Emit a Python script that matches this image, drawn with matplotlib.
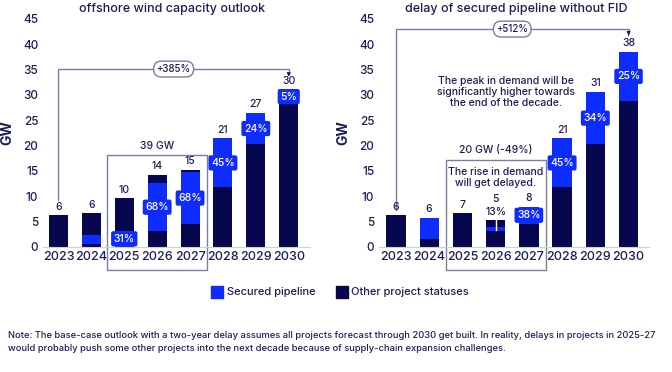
import matplotlib.pyplot as plt
from matplotlib.patches import Rectangle

plt.rcParams['font.family'] = ['Inter', 'DejaVu Sans']
plt.rcParams['font.weight'] = 500

years = ['2023', '2024', '2025', '2026', '2027', '2028', '2029', '2030']

# left: base-case outlook (dark bottom, secured, dark top), GW
base_l = [6.2, 0.5, 0.0, 3.0, 4.4, 11.7, 20.2, 28.2]
secured_l = [0.0, 1.8, 3.1, 9.6, 10.4, 9.7, 6.3, 2.9]
top_l = [0.0, 4.3, 6.5, 1.6, 0.4, 0.0, 0.0, 0.0]
totals_l = ['6', '6', '10', '14', '15', '21', '27', '30']
pct_l = ['', '', '31%', '68%', '68%', '45%', '24%', '5%']

# right: delay of secured pipeline without FID
base_r = [6.2, 1.5, 6.6, 3.1, 4.5, 11.7, 20.2, 28.8]
secured_r = [0.0, 4.2, 0.0, 0.7, 3.4, 9.7, 10.4, 9.7]
top_r = [0.0, 0.0, 0.0, 1.5, 0.0, 0.0, 0.0, 0.0]
totals_r = ['6', '6', '7', '5', '8', '21', '31', '38']
pct_r = ['', '', '', '13%', '38%', '45%', '34%', '25%']

BLUE = '#0f2cff'
NAVY = '#07074f'
TXT = '#1c1c5c'
LAV = '#7c7ca6'

fig = plt.figure(figsize=(6.72, 3.72), dpi=100)
ax1 = fig.add_axes([0.064, 0.337, 0.397, 0.612])
ax2 = fig.add_axes([0.564, 0.337, 0.402, 0.612])


def draw(ax, base, sec, top, totals, pcts, xlim, outside=()):
    x = list(range(len(years)))
    b2 = [b + s for b, s in zip(base, sec)]
    ax.bar(x, base, width=0.58, color=NAVY)
    ax.bar(x, sec, width=0.58, bottom=base, color=BLUE)
    ax.bar(x, top, width=0.58, bottom=b2, color=NAVY)
    for i in x:
        tot = base[i] + sec[i] + top[i]
        if i in outside:
            # small share: label sits above the bar, value above that
            ax.text(i, tot + 0.5, pcts[i], ha='center', va='bottom',
                    fontsize=7.5, color=TXT)
            ax.text(i, tot + 3.1, totals[i], ha='center', va='bottom',
                    fontsize=7.5, color=TXT)
            continue
        ax.text(i, tot + 0.7, totals[i], ha='center', va='bottom',
                fontsize=7.5, color=TXT)
        if pcts[i]:
            ax.text(i, base[i] + sec[i] / 2, pcts[i], ha='center', va='center',
                    fontsize=7.5, color='white',
                    bbox=dict(boxstyle='round,pad=0.25,rounding_size=0.2',
                              fc=BLUE, ec='none'))
    ax.set_xlim(*xlim)
    ax.set_ylim(0, 45)
    ax.set_yticks(range(0, 46, 5))
    ax.set_xticks(x)
    ax.set_xticklabels(years)
    ax.tick_params(length=0, colors=TXT, labelsize=8.5)
    ax.tick_params(axis='x', labelsize=9, pad=3)
    for s in ['left', 'right', 'top']:
        ax.spines[s].set_visible(False)
    ax.spines['bottom'].set_color('#d0d0dc')
    ax.set_ylabel('GW', fontsize=10, fontweight='bold', color=TXT, labelpad=6)


draw(ax1, base_l, secured_l, top_l, totals_l, pct_l, (-0.47, 7.64))
draw(ax2, base_r, secured_r, top_r, totals_r, pct_r, (-0.51, 7.62), outside=(3,))

# left annotations
ax1.plot([0, 0, 7, 7], [9.2, 35.1, 35.1, 34.2], color=LAV, lw=1, clip_on=False)
ax1.annotate('', xy=(7, 33.6), xytext=(7, 34.6),
             arrowprops=dict(arrowstyle='-|>', color=TXT, lw=0.8, mutation_scale=5))
ax1.text(3.5, 35.1, '+385%', ha='center', va='center', fontsize=7, color=TXT,
         bbox=dict(boxstyle='round,pad=0.3,rounding_size=0.8', fc='white', ec=LAV, lw=1))
ax1.add_patch(Rectangle((1.47, -4.6), 3.06, 22.7, fill=False, ec=LAV, lw=1, clip_on=False))
ax1.text(3.0, 19.9, '39 GW', ha='center', va='center', fontsize=7.5, color=TXT)

# right annotations
ax2.plot([0, 0, 7, 7], [7.2, 43.0, 43.0, 42.2], color=LAV, lw=1, clip_on=False)
ax2.annotate('', xy=(7, 41.2), xytext=(7, 42.4),
             arrowprops=dict(arrowstyle='-|>', color=TXT, lw=0.8, mutation_scale=5),
             annotation_clip=False)
ax2.text(3.5, 43.0, '+512%', ha='center', va='center', fontsize=7, color=TXT,
         bbox=dict(boxstyle='round,pad=0.3,rounding_size=0.8', fc='white', ec=LAV, lw=1))
ax2.add_patch(Rectangle((1.51, -4.6), 3.01, 21.7, fill=False, ec=LAV, lw=1, clip_on=False))
ax2.text(3.0, 19.1, '20 GW (-49%)', ha='center', va='center', fontsize=7.5, color=TXT)
ax2.text(3.0, 13.7, 'The rise in demand\nwill get delayed.', ha='center', va='center',
         fontsize=7.5, color=TXT, linespacing=1.1)
ax2.text(3.3, 30.6, 'The peak in demand will be\nsignificantly higher towards\nthe end of the decade.',
         ha='center', va='center', fontsize=7.5, color=TXT, linespacing=1.15)
ax2.plot([3, 3], [3.3, 5.2], color='white', lw=1)

# titles (top is cropped in the source)
fig.text(0.256, 0.975, 'offshore wind capacity outlook', ha='center', va='center',
         fontsize=9, color=TXT)
fig.text(0.768, 0.975, 'delay of secured pipeline without FID', ha='center', va='center',
         fontsize=9, color=TXT)

# legend
fig.patches.append(Rectangle((211 / 672, 1 - 298 / 372), 12 / 672, 12 / 372,
                             transform=fig.transFigure, color=BLUE))
fig.text(227 / 672, 1 - 292 / 372, 'Secured pipeline', va='center', fontsize=8, color=TXT)
fig.patches.append(Rectangle((336 / 672, 1 - 298 / 372), 12 / 672, 12 / 372,
                             transform=fig.transFigure, color=NAVY))
fig.text(351 / 672, 1 - 292 / 372, 'Other project statuses', va='center', fontsize=8, color=TXT)

note = ('Note: The base-case outlook with a two-year delay assumes all projects forecast through 2030 get built. '
        'In reality, delays in projects in 2025-27\nwould probably push some other projects into the next decade '
        'because of supply-chain expansion challenges.')
fig.text(8 / 672, 1 - 342 / 372, note, va='center', fontsize=6.75, color=TXT, linespacing=1.45)

fig.savefig('out.png', dpi=100)
